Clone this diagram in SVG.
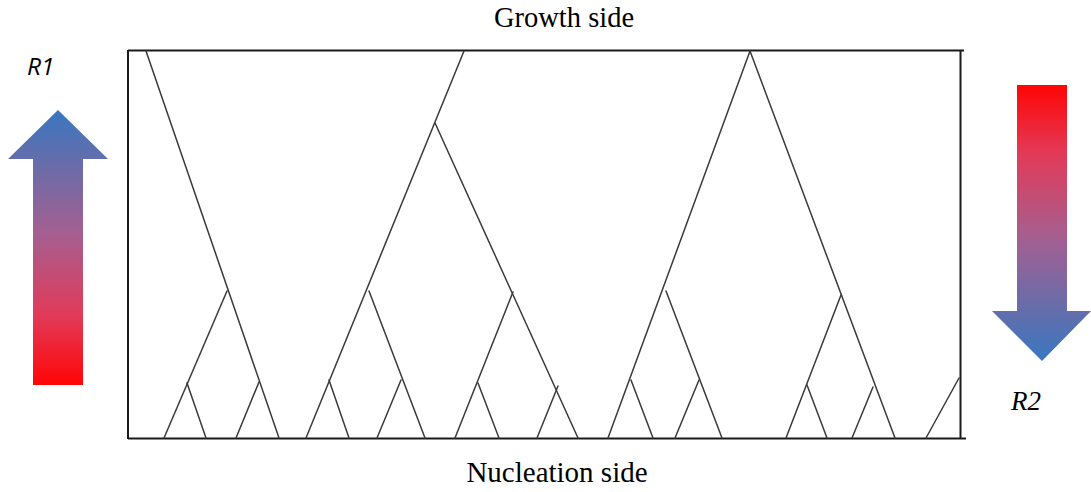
<svg xmlns="http://www.w3.org/2000/svg" width="1091" height="492" viewBox="0 0 1091 492">
<style>
.serif{font-family:"Liberation Serif","Times New Roman",serif;fill:#000}
.frame{stroke:#1a1a1a;stroke-width:2;fill:none}
.g line{stroke:#3a3a3a;stroke-width:1.5;stroke-linecap:round}
</style>
<defs>
<linearGradient id="up" x1="0" y1="0" x2="0" y2="1">
<stop offset="0" stop-color="#3877bf"/>
<stop offset="0.45" stop-color="#a55f90"/>
<stop offset="0.75" stop-color="#e23a58"/>
<stop offset="1" stop-color="#ff0505"/>
</linearGradient>
<linearGradient id="down" x1="0" y1="1" x2="0" y2="0">
<stop offset="0" stop-color="#3877bf"/>
<stop offset="0.45" stop-color="#a55f90"/>
<stop offset="0.75" stop-color="#e23a58"/>
<stop offset="1" stop-color="#ff0505"/>
</linearGradient>
</defs>
<rect width="1091" height="492" fill="#fff"/>
<g id="labels">
<text class="serif" x="564" y="27" font-size="28.5" text-anchor="middle">Growth side</text>
<text class="serif" x="557" y="481.5" font-size="29" text-anchor="middle">Nucleation side</text>
<text x="27" y="75" font-family="'Open Sans','DejaVu Sans',sans-serif" font-style="italic" font-size="24.5">R1</text>
<text x="1011" y="410" font-family="'Liberation Serif','Times New Roman',serif" font-size="27" font-style="italic" fill="#000">R2</text>
</g>
<g id="arrow-r1">
<polygon points="58,110 108,159 83,159 83,385 33,385 33,159 8,159" fill="url(#up)"/>
</g>
<g id="arrow-r2">
<polygon points="1017,85 1067,85 1067,311 1091,311 1042,361 992,311 1017,311" fill="url(#down)"/>
</g>
<g id="frame">
<line class="frame" x1="128" y1="50.5" x2="964" y2="50.5"/>
<line class="frame" x1="128" y1="438.5" x2="966" y2="438.5"/>
<line class="frame" x1="128" y1="50" x2="128" y2="439"/>
<line class="frame" x1="960.5" y1="50" x2="960.5" y2="439"/>
</g>
<g id="connectors" class="g">
<line x1="146" y1="51" x2="279" y2="438"/>
<line x1="227" y1="291" x2="164" y2="438"/>
<line x1="187" y1="383" x2="206" y2="438"/>
<line x1="259" y1="382" x2="236" y2="438"/>
<line x1="464" y1="51" x2="306" y2="438"/>
<line x1="329" y1="380" x2="349" y2="438"/>
<line x1="369" y1="291" x2="425" y2="438"/>
<line x1="401" y1="380" x2="377" y2="438"/>
<line x1="435" y1="123" x2="578" y2="438"/>
<line x1="513" y1="292" x2="455" y2="438"/>
<line x1="478" y1="383" x2="499" y2="438"/>
<line x1="558" y1="386" x2="537" y2="438"/>
<line x1="750" y1="51" x2="608" y2="438"/>
<line x1="666" y1="291" x2="722" y2="438"/>
<line x1="631" y1="380" x2="653" y2="438"/>
<line x1="699" y1="380" x2="675" y2="438"/>
<line x1="750" y1="51" x2="895" y2="438"/>
<line x1="841" y1="295" x2="786" y2="438"/>
<line x1="807" y1="385" x2="827" y2="438"/>
<line x1="873" y1="387" x2="852" y2="438"/>
<line x1="959" y1="378" x2="926" y2="438"/>
</g>
</svg>
